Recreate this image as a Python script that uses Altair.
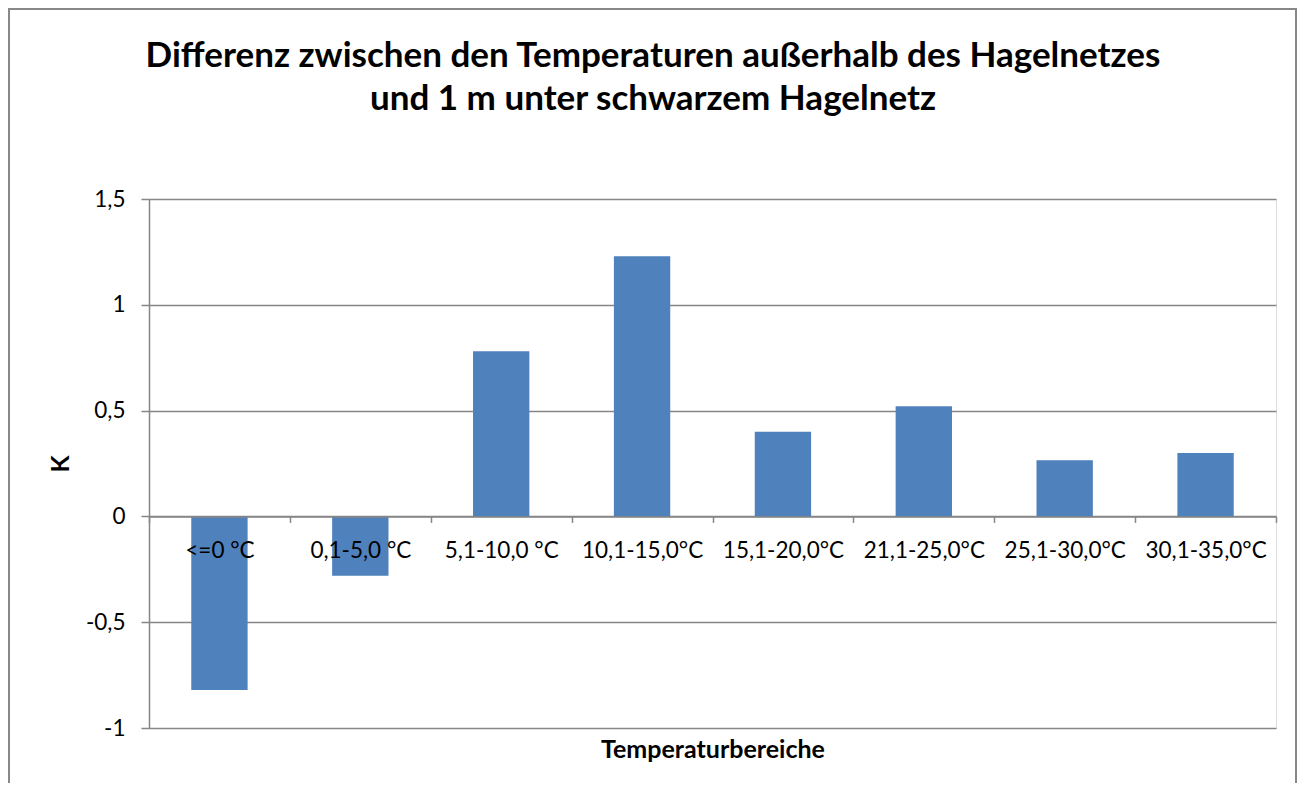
import altair as alt
import pandas as pd

categories = ["<=0 °C", "0,1-5,0 °C", "5,1-10,0 °C", "10,1-15,0°C",
              "15,1-20,0°C", "21,1-25,0°C", "25,1-30,0°C", "30,1-35,0°C"]
values = [-0.82, -0.28, 0.78, 1.23, 0.40, 0.52, 0.265, 0.30]
y_ticks = [-1, -0.5, 0, 0.5, 1, 1.5]
title_lines = ["Differenz zwischen den Temperaturen außerhalb des Hagelnetzes",
               "und 1 m unter schwarzem Hagelnetz"]

df = pd.DataFrame({"cat": categories, "val": values})

W, H = 1127, 529
ymin, ymax = -1.0, 1.5
zero_px = H * ymax / (ymax - ymin)
x_offset = -(H - zero_px)

FONT = "Lato"
GRID = "#868686"

bars = alt.Chart(df).mark_bar(
    color="#4F81BD", width=alt.RelativeBandSize(0.4)
).encode(
    x=alt.X("cat:N", sort=categories,
            scale=alt.Scale(paddingInner=0, paddingOuter=0),
            axis=alt.Axis(
                title="Temperaturbereiche", labelAngle=0, tickBand="extent",
                offset=x_offset, domainColor=GRID, tickColor=GRID, tickSize=6,
                labelPadding=17, labelFontSize=22.5, labelFont=FONT, labelColor="black",
                titleFont=FONT, titleFontSize=25, titleFontWeight="bold", titleColor="black",
                titleY=H - zero_px + 21, titleBaseline="middle", zindex=1, grid=False,
                domainWidth=1.5, tickWidth=1.5)),
    y=alt.Y("val:Q",
            scale=alt.Scale(domain=[ymin, ymax], nice=False, zero=False),
            axis=alt.Axis(
                title="K", values=y_ticks, grid=True, gridColor=GRID, gridWidth=1.5,
                domainColor=GRID, domainWidth=1.5, tickColor=GRID, tickWidth=1.5, tickSize=8,
                labelPadding=16, labelFontSize=22.5, labelFont=FONT, labelColor="black",
                labelExpr="replace(toString(datum.value), '.', ',')",
                titleFont=FONT, titleFontSize=25, titleFontWeight="bold", titleColor="black",
                titleX=-89, titleY=H / 2, titleAlign="center", titleBaseline="middle")),
)

one = pd.DataFrame({"a": [0]})

border = alt.Chart(one).mark_rect(
    fill="transparent", stroke="#888888", strokeWidth=2
).encode(
    x=alt.value(-140), x2=alt.value(1147), y=alt.value(-190), y2=alt.value(620)
)

title = alt.Chart(one).mark_text(
    text=title_lines, font=FONT, fontSize=35, fontWeight="bold", color="black",
    align="center", baseline="alphabetic", lineHeight=43
).encode(x=alt.value(504), y=alt.value(-132))

chart = alt.layer(border, bars, title).properties(
    width=W, height=H,
    autosize=alt.AutoSizeParams(type="none"),
    padding={"left": 141, "top": 191, "right": 22, "bottom": 55},
).configure_view(stroke="transparent", strokeWidth=0).configure(background="white")

chart.save("out.html", embed_options={"renderer": "svg", "actions": False})
